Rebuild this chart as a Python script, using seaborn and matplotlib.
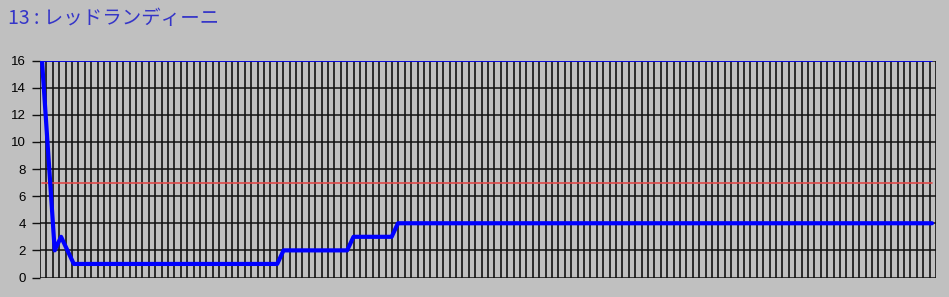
import numpy as np
import pandas as pd
import matplotlib
matplotlib.use("Agg")
import matplotlib.pyplot as plt
import seaborn as sns

# ---- data ----
title_text = "13 : レッドランディーニ"
rank_head = [16, 9, 2, 3, 2]
rank_runs = [(1, 33), (2, 11), (3, 7), (4, 85)]   # (value, count)
threshold = 7
top_line = 16
y_ticks = [0, 2, 4, 6, 8, 10, 12, 14, 16]
n_grid = 140

values = list(rank_head)
for v, c in rank_runs:
    values += [v] * c
idx = list(range(len(values)))
df = pd.DataFrame({"idx": idx, "rank": values,
                   "thr": [threshold] * len(values),
                   "top": [top_line] * len(values)})

sns.set_theme(style="white")
plt.rcParams["font.family"] = ["Liberation Sans", "DejaVu Sans"]

fig = plt.figure(figsize=(9.49, 2.97), dpi=100)
fig.patch.set_facecolor("#c0c0c0")
ax = fig.add_axes([40 / 949, 1 - 277.5 / 297, 896 / 949, 217 / 297])
ax.set_facecolor("#c0c0c0")

n = len(values)
step = 890 / (n - 1)
xl = (-2 / step, (n - 1) + 4 / step)
ax.set_xlim(*xl)
ax.set_ylim(0, 16)

# vertical grid
for j in range(n_grid + 1):
    xv = xl[0] + j * (xl[1] - xl[0]) / n_grid
    ax.axvline(xv, color="#262626", lw=1.35, zorder=1)
# horizontal grid
for yv in y_ticks:
    ax.axhline(yv, color="#111111", lw=1.1, zorder=1)

sns.lineplot(data=df, x="idx", y="thr", ax=ax, color="#e04848", lw=1.2, zorder=3)
sns.lineplot(data=df, x="idx", y="top", ax=ax, color="#0000ff", lw=1.2, zorder=3)
sns.lineplot(data=df, x="idx", y="rank", ax=ax, color="#0000ff", lw=3.0, zorder=4)

ax.set_xlabel("")
ax.set_ylabel("")
ax.set_xticks([])
ax.set_yticks(y_ticks)
ax.set_yticklabels([str(v) for v in y_ticks], fontsize=9.5, color="black")
ax.tick_params(axis="y", length=6, width=1, color="#111111", pad=4, left=True)
for s in ax.spines.values():
    s.set_visible(False)

fig.text(8 / 949, 1 - 18 / 297, title_text, color="#3535c8", fontsize=14,
         va="center", ha="left",
         family=["Noto Sans CJK JP", "DejaVu Sans"])

fig.savefig("out.png", dpi=100, facecolor=fig.get_facecolor())
